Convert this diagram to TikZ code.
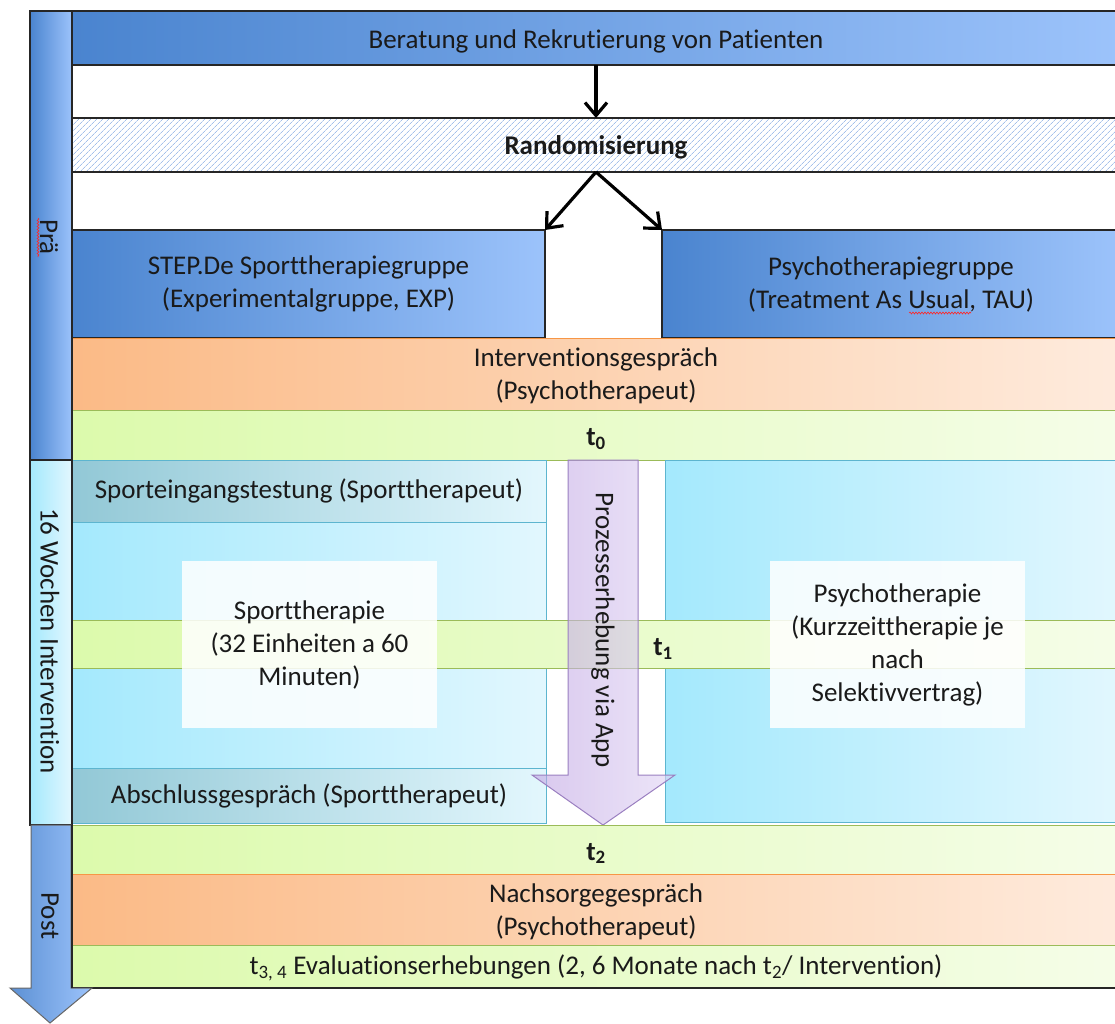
\documentclass[tikz,border=0pt]{standalone}
\usepackage{fontspec}
\setmainfont[Ligatures=NoCommon]{Carlito}
\usetikzlibrary{patterns.meta,arrows.meta,decorations.pathmorphing}
\definecolor{edge}{HTML}{262626}
\definecolor{txt}{HTML}{1A1A1A}
\definecolor{bdark}{HTML}{4A84CF}
\definecolor{bmid}{HTML}{7EAEEE}
\definecolor{blight}{HTML}{9CC3FB}
\definecolor{odark}{HTML}{FBBA86}
\definecolor{olight}{HTML}{FEEBDD}
\definecolor{oedge}{HTML}{F79646}
\definecolor{gdark}{HTML}{DCFAAC}
\definecolor{glight}{HTML}{F5FDE8}
\definecolor{gedge}{HTML}{9BBB59}
\definecolor{tdark}{HTML}{92C8D6}
\definecolor{tlight}{HTML}{E3F7FD}
\definecolor{cdark}{HTML}{A4E9FD}
\definecolor{clight}{HTML}{E2F7FE}
\definecolor{cedge}{HTML}{5DB5CF}
\definecolor{hatchc}{HTML}{A4C0EA}
\definecolor{pdark}{HTML}{BFA3E2}
\definecolor{plight}{HTML}{E0D4F4}
\definecolor{pedge}{HTML}{9A7FC0}
\newcommand\fs{\fontsize{27}{33}\selectfont}
\newcommand\dn[2]{\raisebox{-#1pt}[\height][\depth]{#2}}
\newcommand\mkbox[7]{\node[box,#6,minimum width={#4-#2},minimum height={#5-#3}] (#1) at (#2,#3) {#7};}
\begin{document}
\begin{tikzpicture}[x=1pt,y=-1pt,
  box/.style={inner sep=0pt,outer sep=0pt,anchor=north west,align=center,font=\fs,text=txt},
  bluebox/.style={draw=edge,line width=1.3pt,left color=bdark,middle color=bmid,right color=blight},
  hatchbox/.style={draw=edge,line width=1.3pt,pattern={Lines[angle=45,distance=4pt,line width=0.7pt]},pattern color=hatchc},
  orangebox/.style={draw=oedge,line width=1pt,left color=odark,right color=olight},
  greenbox/.style={draw=gedge,line width=1pt,left color=gdark,right color=glight},
  tealbox/.style={draw=cedge,line width=0.8pt,left color=tdark,right color=tlight},
  cyanbox/.style={draw=cedge,line width=0.8pt,left color=cdark,right color=clight},
  whitebox/.style={fill=white,fill opacity=0.85,text opacity=1},
  sideblue/.style={draw=edge,line width=1.3pt,left color=bdark,right color=blight},
  sidecyan/.style={draw=edge,line width=1.3pt,left color=cdark,right color=clight},
  conn/.style={line width=3.2pt,draw=black,-{Straight Barb[length=13pt,width=22pt]}},
  wavy/.style={draw=red!85,line width=0.6pt,decorate,decoration={snake,amplitude=1pt,segment length=3pt}},
  lbl/.style={font=\fs,text=txt,inner sep=0pt}]
\clip (0,0) rectangle (1115,1023);
% main column
\mkbox{ber}{72}{11}{1120}{65}{bluebox}{\dn{3}{Beratung und Rekrutierung von Patienten}}
\mkbox{rand}{72}{118}{1120}{172}{hatchbox}{\dn{2}{\textbf{Randomisierung}}}
\mkbox{exp}{72}{230}{545}{338}{bluebox}{STEP.De Sporttherapiegruppe\\(Experimentalgruppe, EXP)}
\mkbox{tau}{662}{230}{1120}{338}{bluebox}{Psychotherapiegruppe\\(Treatment As Usual, TAU)}
\mkbox{ivg}{72}{338}{1120}{410}{orangebox}{\dn{2}{Interventionsgespräch}\\\dn{2}{(Psychotherapeut)}}
\mkbox{tzero}{72}{410}{1120}{460}{greenbox}{\dn{4}{\textbf{t\textsubscript{0}}}}
% intervention columns
\mkbox{spe}{72}{460}{546}{522}{tealbox}{Sporteingangstestung (Sporttherapeut)}
\mkbox{spm}{72}{522}{546}{768}{cyanbox}{}
\mkbox{abg}{72}{768}{546}{823}{tealbox}{Abschlussgespräch (Sporttherapeut)}
\mkbox{psy}{665}{460}{1120}{822}{cyanbox}{}
\mkbox{tone}{72}{620}{1120}{668}{greenbox}{}
\node[lbl,font=\fs\bfseries] (tonelbl) at (663,649) {t\textsubscript{1}};
\mkbox{spt}{182}{561}{437}{728}{whitebox}{Sporttherapie\\(32 Einheiten a 60\\Minuten)}
\mkbox{pst}{770}{561}{1025}{728}{whitebox}{Psychotherapie\\(Kurzzeittherapie je\\nach\\Selektivvertrag)}
% process arrow
\shade[left color=pdark,right color=plight,fill opacity=0.6,draw=pedge,line width=1pt]
  (568,460) -- (638,460) -- (638,775) -- (675,775) -- (603,825) -- (532,775) -- (568,775) -- cycle;
\node[lbl,rotate=-90] (app) at (603,630) {Prozesserhebung via App};
% post
\mkbox{ttwo}{72}{825}{1120}{874}{greenbox}{\dn{4}{\textbf{t\textsubscript{2}}}}
\mkbox{nsg}{72}{874}{1120}{945}{orangebox}{\dn{2}{Nachsorgegespräch}\\\dn{2}{(Psychotherapeut)}}
\mkbox{tdrei}{72}{945}{1120}{988}{greenbox}{\dn{1}{t\textsubscript{3, 4} Evaluationserhebungen (2, 6 Monate nach t\textsubscript{2}/ Intervention)}}
\draw[edge,line width=1.3pt] (tdrei.south west) -- (tdrei.south east);
% side bar
\mkbox{pra}{30}{11}{72}{460}{sideblue}{}
\mkbox{wochen}{30}{460}{72}{825}{sidecyan}{}
\shade[left color=bdark!90,right color=blight,draw=edge!70,line width=1pt]
  (31,825) -- (71,825) -- (71,988) -- (92,988) -- (50,1023) -- (10,988) -- (31,988) -- cycle;
\draw[edge,line width=1.3pt] (72,825) -- (72,988);
\node[lbl,rotate=-90] (pralbl) at (49,237) {Prä};
\node[lbl,rotate=-90] (wochenlbl) at (50,641) {16 Wochen Intervention};
\node[lbl,rotate=-90] (postlbl) at (50,916) {Post};
\draw[wavy] (38,218) -- (38,257);
\draw[wavy] (909,313) -- (971,313);
% connectors
\draw[conn] (ber.south) -- (rand.north);
\draw[conn] (rand.south) -- (exp.north east);
\draw[conn] (rand.south) -- (tau.north west);
\end{tikzpicture}
\end{document}
